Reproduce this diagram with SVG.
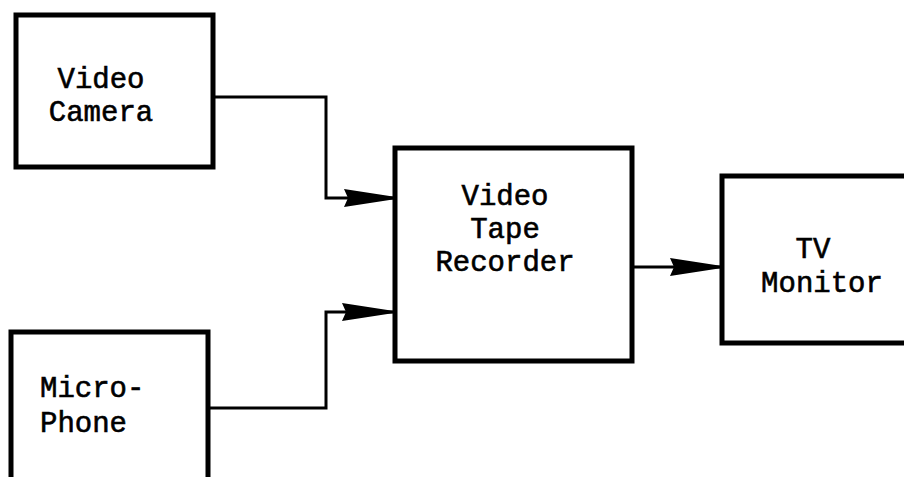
<svg xmlns="http://www.w3.org/2000/svg" width="904" height="477" viewBox="0 0 904 477">
<style>
.box{fill:none;stroke:#000;stroke-width:5}
.lbl{font-family:"Liberation Mono","Courier New",monospace;font-size:29px;fill:#000;stroke:#000;stroke-width:0.6}
.wire{fill:none;stroke:#000;stroke-width:3}
</style>
<defs>
<marker id="ah" viewBox="0 0 52 18" refX="52" refY="9" markerWidth="52" markerHeight="18" markerUnits="userSpaceOnUse" orient="auto">
<path d="M0,0 L52,8 L52,10 L0,18 L4,9 Z" fill="#000"/>
</marker>
</defs>
<rect width="904" height="477" fill="#fff"/>
<g id="connectors">
<path class="wire" d="M213,97 H326 V198 H396" marker-end="url(#ah)"/>
<path class="wire" d="M208,408 H326 V312 H394" marker-end="url(#ah)"/>
<path class="wire" d="M632,267 H722" marker-end="url(#ah)"/>
</g>
<g id="camera">
<rect class="box" x="16" y="15" width="197" height="152"/>
<text class="lbl" text-anchor="middle" x="101" y="88">Video</text>
<text class="lbl" text-anchor="middle" x="101" y="121">Camera</text>
</g>
<g id="microphone">
<rect class="box" x="11" y="332" width="197" height="160"/>
<text class="lbl" x="40" y="397">Micro-</text>
<text class="lbl" x="40" y="432">Phone</text>
</g>
<g id="vtr">
<rect class="box" x="395" y="148" width="237" height="213"/>
<text class="lbl" text-anchor="middle" x="505" y="205">Video</text>
<text class="lbl" text-anchor="middle" x="505" y="238">Tape</text>
<text class="lbl" text-anchor="middle" x="505" y="271">Recorder</text>
</g>
<g id="tv">
<rect class="box" x="722" y="176" width="200" height="167"/>
<text class="lbl" text-anchor="middle" x="813" y="258">TV</text>
<text class="lbl" text-anchor="middle" x="822" y="292">Monitor</text>
</g>
</svg>
